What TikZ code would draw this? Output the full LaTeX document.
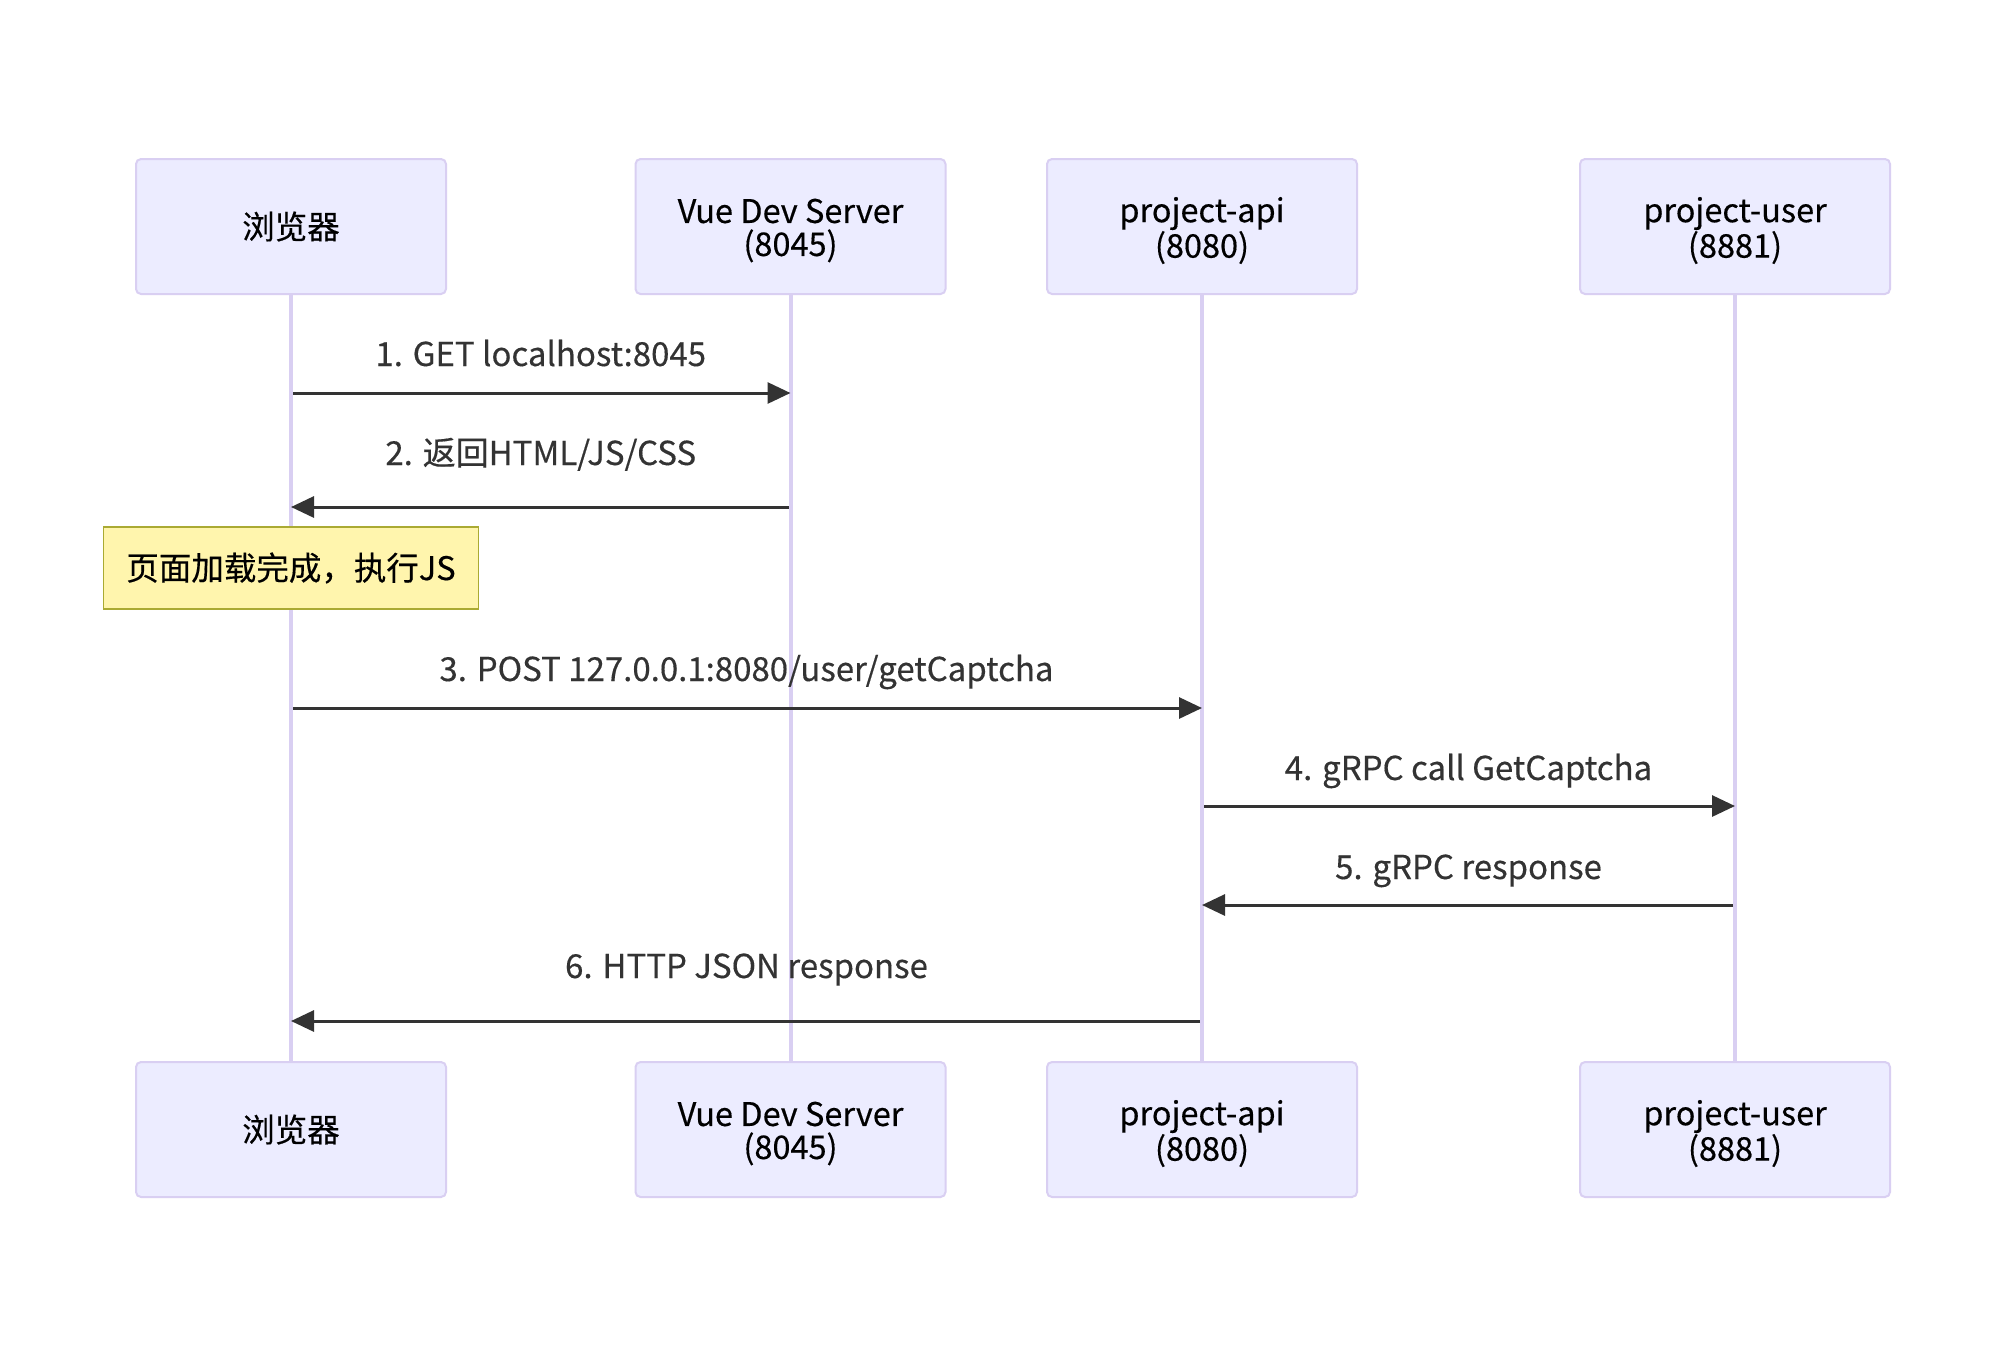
\documentclass[tikz,border=0pt]{standalone}
\usepackage{fontspec}
\setmainfont{Noto Sans CJK SC}[FakeBold=0.35]
\usetikzlibrary{arrows.meta}
\definecolor{actorfill}{HTML}{ECECFF}
\definecolor{actorborder}{HTML}{D9CFF2}
\definecolor{signal}{HTML}{333333}
\definecolor{notefill}{HTML}{FFF5AD}
\definecolor{noteborder}{HTML}{AAAA33}
\tikzset{
  actor/.style={draw=actorborder, fill=actorfill, line width=2pt, rounded corners=5pt,
    minimum width=310pt, minimum height=135pt, align=center, text=black,
    font=\fontsize{32.5}{33}\selectfont},
  actortext/.style={align=center, text=black, font=\fontsize{32.5}{33}\selectfont, yshift=-4pt},
  actortwo/.style={label={[actortext]center:#1}},
  life/.style={draw=actorborder, line width=4pt},
  msg/.style={draw=signal, line width=3pt, -{Triangle[length=23pt,width=21pt]}, shorten <=2pt},
  msglabel/.style={text=signal, font=\fontsize{33}{33}\selectfont, anchor=base},
  notebox/.style={draw=noteborder, fill=notefill, line width=1.8pt,
    minimum width=375pt, minimum height=82pt, text=black, font=\fontsize{32.5}{33}\selectfont}
}
\begin{document}
\begin{tikzpicture}[x=1pt,y=-1pt]
\useasboundingbox[fill=white] (0,0) rectangle (1993,1358);
% participants (top and bottom)
\node[actor] (b1) at (291,226.5) {浏览器};
\node[actor, actortwo={Vue Dev Server\\(8045)}] (v1) at (790.5,226.5) {};
\node[actor, actortwo={project-api\\(8080)}] (a1) at (1202,226.5) {};
\node[actor, actortwo={project-user\\(8881)}] (u1) at (1735,226.5) {};
\node[actor] (b2) at (291,1129.5) {浏览器};
\node[actor, actortwo={Vue Dev Server\\(8045)}] (v2) at (790.5,1129.5) {};
\node[actor, actortwo={project-api\\(8080)}] (a2) at (1202,1129.5) {};
\node[actor, actortwo={project-user\\(8881)}] (u2) at (1735,1129.5) {};
% lifelines
\draw[life] (b1.south) -- (b2.north);
\draw[life] (v1.south) -- (v2.north);
\draw[life] (a1.south) -- (a2.north);
\draw[life] (u1.south) -- (u2.north);
% message rows
\coordinate (r1) at (0,393);
\coordinate (r2) at (0,507);
\coordinate (r3) at (0,708);
\coordinate (r4) at (0,806);
\coordinate (r5) at (0,905);
\coordinate (r6) at (0,1021);
% note over the browser
\node[notebox] (n1) at (291,568) {页面加载完成，执行JS};
% messages
\draw[msg] (b1 |- r1) -- (v1 |- r1);
\node[msglabel] (l1) at (540.75,366) {1. GET localhost:8045};
\draw[msg] (v1 |- r2) -- (b1 |- r2);
\node[msglabel] (l2) at (540.75,465) {2. 返回HTML/JS/CSS};
\draw[msg] (b1 |- r3) -- (a1 |- r3);
\node[msglabel] (l3) at (746.5,681) {3. POST 127.0.0.1:8080/user/getCaptcha};
\draw[msg] (a1 |- r4) -- (u1 |- r4);
\node[msglabel] (l4) at (1468.5,780) {4. gRPC call GetCaptcha};
\draw[msg] (u1 |- r5) -- (a1 |- r5);
\node[msglabel] (l5) at (1468.5,879) {5. gRPC response};
\draw[msg] (a1 |- r6) -- (b1 |- r6);
\node[msglabel] (l6) at (746.5,978) {6. HTTP JSON response};
\end{tikzpicture}
\end{document}
